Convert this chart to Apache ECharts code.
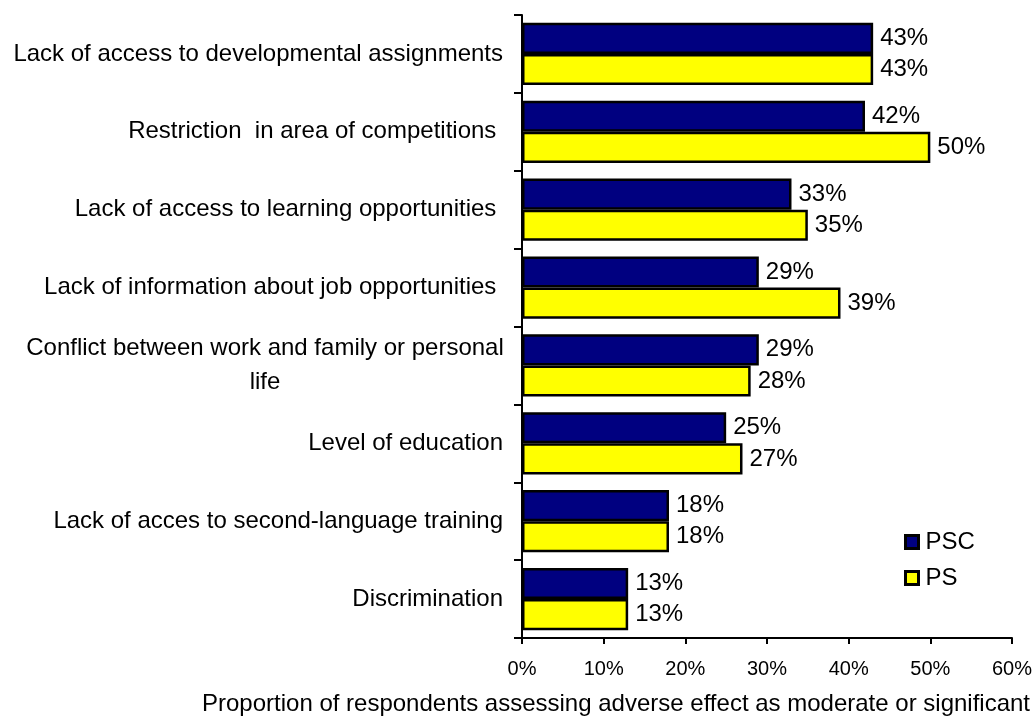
<!DOCTYPE html>
<html>
<head>
<meta charset="utf-8">
<script src="https://cdn.jsdelivr.net/npm/echarts@6/dist/echarts.min.js"></script>
<style>
html,body{margin:0;padding:0;background:#fff;}
#chart{width:1035px;height:717px;}
</style>
</head>
<body>
<div id="chart"></div>
<script>
var categories = [
  "Lack of access to developmental assignments",
  "Restriction  in area of competitions ",
  "Lack of access to learning opportunities ",
  "Lack of information about job opportunities ",
  "Conflict between work and family or personal\nlife",
  "Level of education",
  "Lack of acces to second-language training",
  "Discrimination"
];
var psc = [43, 42, 33, 29, 29, 25, 18, 13];
var ps = [43, 50, 35, 39, 28, 27, 18, 13];
var xTicks = { min: 0, max: 60, interval: 10 };
var seriesNames = ["PSC", "PS"];
var axisTitle = "Proportion of respondents assessing adverse effect as moderate or significant";

var FONT = "'Liberation Sans', Arial, sans-serif";
var chart = echarts.init(document.getElementById('chart'));

function catFormatter(v) {
  if (v.indexOf('\n') >= 0) {
    return v.split('\n').map(function (s) { return '{c|' + s + '}'; }).join('\n');
  }
  return v;
}

var labelStyle = {
  show: true,
  position: 'right',
  distance: 7,
  formatter: '{c}%',
  fontSize: 24,
  fontFamily: FONT,
  color: '#000'
};

chart.setOption({
  animation: false,
  backgroundColor: '#fff',
  grid: { left: 522, right: 21, top: 15, bottom: 79, containLabel: false },
  title: {
    text: axisTitle,
    left: 202,
    top: 692,
    padding: 0,
    textStyle: { fontSize: 24, fontWeight: 'normal', fontFamily: FONT, color: '#000' }
  },
  legend: {
    orient: 'vertical',
    left: 904,
    top: 530,
    padding: 0,
    itemWidth: 13,
    itemHeight: 13,
    itemGap: 12,
    icon: 'rect',
    data: seriesNames,
    itemStyle: { borderColor: '#000', borderWidth: 3 },
    textStyle: { fontSize: 24, fontFamily: FONT, color: '#000', lineHeight: 24, padding: [0, 0, 0, 2] }
  },
  xAxis: {
    type: 'value',
    min: xTicks.min,
    max: xTicks.max,
    interval: xTicks.interval,
    splitLine: { show: false },
    axisLine: { show: true, lineStyle: { color: '#000', width: 2 } },
    axisTick: { show: true, inside: false, length: 6, lineStyle: { color: '#000', width: 2 } },
    axisLabel: { formatter: '{value}%', fontSize: 20, fontFamily: FONT, color: '#000', margin: 21 }
  },
  yAxis: {
    type: 'category',
    inverse: true,
    data: categories,
    axisLine: { show: true, lineStyle: { color: '#000', width: 2 } },
    axisTick: { show: true, inside: false, length: 8, alignWithLabel: false, lineStyle: { color: '#000', width: 2 } },
    axisLabel: {
      fontSize: 24,
      fontFamily: FONT,
      color: '#000',
      margin: 19,
      lineHeight: 34,
      formatter: catFormatter,
      rich: {
        c: { fontSize: 24, fontFamily: FONT, color: '#000', width: 476, align: 'center', lineHeight: 34 }
      }
    }
  },
  series: [
    {
      name: seriesNames[0],
      type: 'bar',
      data: psc,
      barGap: '0%',
      barCategoryGap: '20%',
      itemStyle: { color: '#000080', borderColor: '#000', borderWidth: 2.5 },
      label: labelStyle
    },
    {
      name: seriesNames[1],
      type: 'bar',
      data: ps,
      barGap: '0%',
      barCategoryGap: '20%',
      itemStyle: { color: '#FFFF00', borderColor: '#000', borderWidth: 2.5 },
      label: labelStyle
    }
  ]
});
</script>
</body>
</html>
